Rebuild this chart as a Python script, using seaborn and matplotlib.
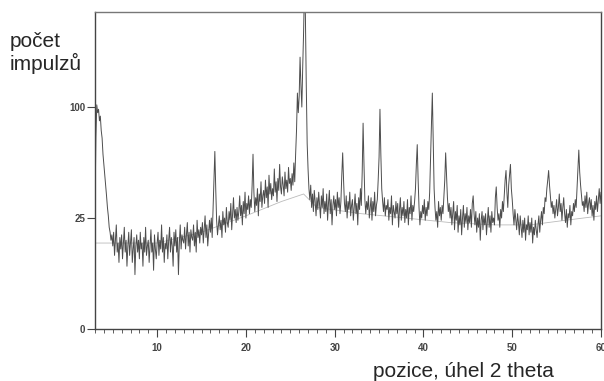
import numpy as np
import pandas as pd
import seaborn as sns
import matplotlib.pyplot as plt
from matplotlib.ticker import MultipleLocator

# scan: start angle, step, counts (10 points per degree)
scan_start = 3.0
scan_step = 0.1
counts = [
    30, 75, 102, 95, 98, 88, 92, 80, 74, 62,      # 3
    55, 48, 42, 36, 30, 26, 21, 19, 16, 18,       # 4
    14, 19, 11, 16, 22, 12, 15, 9, 17, 13,        # 5
    18, 10, 15, 21, 12, 16, 8, 14, 19, 11,        # 6
    15, 20, 9, 13, 17, 6, 14, 18, 12, 16,         # 7
    10, 19, 13, 15, 8, 17, 12, 21, 11, 14,        # 8
    16, 9, 14, 20, 12, 15, 7, 18, 13, 10,         # 9
    15, 19, 11, 16, 13, 22, 12, 17, 9, 15,        # 10
    13, 18, 10, 16, 21, 12, 17, 14, 8, 19,        # 11
    14, 20, 12, 17, 6, 15, 22, 13, 18, 16,        # 12
    15, 21, 13, 18, 23, 14, 19, 12, 20, 17,       # 13
    16, 22, 14, 19, 12, 24, 17, 20, 15, 21,       # 14
    18, 23, 15, 20, 26, 17, 22, 14, 19, 24,       # 15
    19, 25, 17, 30, 45, 64, 40, 24, 18, 22,       # 16
    26, 20, 24, 17, 28, 22, 25, 19, 30, 23,       # 17
    21, 28, 24, 32, 20, 27, 35, 25, 29, 23,       # 18
    30, 24, 28, 36, 26, 31, 22, 33, 27, 38,       # 19
    25, 32, 29, 36, 27, 34, 30, 42, 62, 38,       # 20
    28, 35, 31, 40, 26, 37, 33, 44, 30, 36,       # 21
    39, 32, 45, 35, 41, 30, 48, 37, 43, 34,       # 22
    40, 36, 52, 38, 44, 33, 46, 39, 55, 41,       # 23
    37, 47, 42, 36, 50, 40, 45, 38, 53, 43,       # 24
    46, 39, 49, 42, 56, 44, 62, 80, 113, 95,      # 25
    110, 150, 120, 100, 140, 180, 240, 200, 120, 70,  # 26
    52, 40, 34, 42, 30, 37, 28, 39, 33, 26,       # 27
    35, 29, 38, 31, 25, 36, 30, 40, 27, 33,       # 28
    28, 37, 24, 32, 39, 27, 34, 22, 31, 36,       # 29
    29, 34, 26, 38, 30, 35, 27, 33, 48, 63,       # 30
    45, 32, 28, 36, 25, 33, 29, 38, 26, 31,       # 31
    34, 24, 30, 37, 27, 32, 22, 35, 29, 40,       # 32
    31, 50, 86, 55, 34, 27, 33, 29, 36, 25,       # 33
    30, 35, 24, 33, 28, 38, 26, 31, 34, 45,       # 34
    60, 98, 62, 40, 33, 28, 35, 26, 31, 29,       # 35
    34, 24, 30, 27, 36, 22, 31, 28, 25, 33,       # 36
    27, 32, 21, 29, 35, 24, 30, 26, 33, 23,       # 37
    29, 25, 34, 22, 30, 27, 36, 24, 31, 28,       # 38
    33, 40, 55, 69, 45, 30, 22, 28, 25, 31,       # 39
    27, 34, 24, 30, 26, 33, 29, 38, 60, 85,       # 40
    113, 70, 40, 30, 24, 28, 21, 33, 26, 30,      # 41
    24, 31, 27, 36, 45, 63, 48, 35, 28, 32,       # 42
    25, 30, 22, 27, 33, 20, 28, 24, 31, 19,       # 43
    26, 22, 29, 18, 25, 31, 21, 27, 23, 30,       # 44
    20, 26, 23, 29, 21, 32, 36, 27, 22, 28,       # 45
    19, 25, 21, 27, 16, 24, 28, 20, 26, 22,       # 46
    27, 18, 24, 30, 21, 26, 19, 28, 23, 25,       # 47
    22, 35, 41, 30, 24, 27, 21, 29, 25, 33,       # 48
    28, 36, 45, 51, 38, 30, 42, 48, 55, 40,       # 49
    34, 27, 22, 29, 24, 20, 27, 23, 18, 26,       # 50
    21, 17, 24, 19, 25, 16, 22, 20, 26, 18,       # 51
    23, 19, 25, 15, 21, 18, 24, 20, 17, 22,       # 52
    26, 19, 24, 28, 22, 30, 27, 35, 33, 40,       # 53
    45, 51, 42, 36, 30, 33, 27, 31, 25, 29,       # 54
    34, 26, 30, 37, 28, 32, 24, 30, 35, 27,       # 55
    23, 29, 21, 27, 25, 31, 22, 28, 26, 32,       # 56
    28, 34, 30, 40, 52, 65, 50, 42, 36, 31,       # 57
    33, 28, 36, 30, 38, 27, 32, 35, 29, 34,       # 58
    26, 31, 24, 33, 29, 36, 28, 34, 40, 32,       # 59
    38,                                           # 60
]
angles = [round(scan_start + scan_step * i, 1) for i in range(len(counts))]

# fitted background line
bg_angles = [3, 5, 10, 15, 20, 24, 26.5, 28, 33, 38, 43, 48, 52, 56, 60]
bg_counts = [15, 15, 15, 19, 26, 33, 37, 30, 27, 25, 23, 22, 22, 24, 26]

x_ticks = [10, 20, 30, 40, 50, 60]
y_ticks = [0, 25, 100]

df = pd.DataFrame({'angle': angles, 'counts': counts})
bg = pd.DataFrame({'angle': bg_angles, 'counts': bg_counts})

sns.set_style('white')
plt.rcParams['font.family'] = ['Liberation Sans', 'DejaVu Sans']

fig = plt.figure(figsize=(6.04, 3.81), dpi=100)
ax = fig.add_axes([95 / 604, 1 - 329 / 381, 506 / 604, 317 / 381])

sns.lineplot(data=bg, x='angle', y='counts', ax=ax, color='#bbbbbb', linewidth=0.6)
sns.lineplot(data=df, x='angle', y='counts', ax=ax, color='#4d4d4d', linewidth=0.7,
             estimator=None)

ax.set_yscale('function', functions=(lambda v: np.sqrt(np.clip(v, 0, None)), lambda v: v ** 2))
ax.set_xlim(3, 60)
ax.set_ylim(0, 204)
ax.set_xticks(x_ticks)
ax.set_yticks(y_ticks)
ax.xaxis.set_minor_locator(MultipleLocator(1))
ax.set_xlabel('')
ax.set_ylabel('')

ax.tick_params(axis='x', which='major', direction='out', length=6, width=0.8,
               color='#444444', labelsize=7, labelcolor='#444444', pad=4, bottom=True)
ax.tick_params(axis='x', which='minor', direction='out', length=3, width=0.6,
               color='#444444', bottom=True)
ax.tick_params(axis='y', direction='out', length=5.5, width=0.8, color='#444444',
               labelsize=7, labelcolor='#444444', pad=1.5, left=True)
for lab in ax.get_xticklabels() + ax.get_yticklabels():
    lab.set_fontweight('bold')

for side in ['left', 'bottom', 'right']:
    ax.spines[side].set_color('#444444')
    ax.spines[side].set_linewidth(1.0)
ax.spines['top'].set_color('#777777')
ax.spines['top'].set_linewidth(1.0)

fig.text(10 / 604, 1 - 47 / 381, 'počet', fontsize=15, va='baseline', ha='left')
fig.text(10 / 604, 1 - 70 / 381, 'impulzů', fontsize=15, va='baseline', ha='left')
fig.text(373 / 604, 1 - 377 / 381, 'pozice, úhel 2 theta', fontsize=15,
         va='baseline', ha='left')

fig.savefig('out.png', dpi=100)
